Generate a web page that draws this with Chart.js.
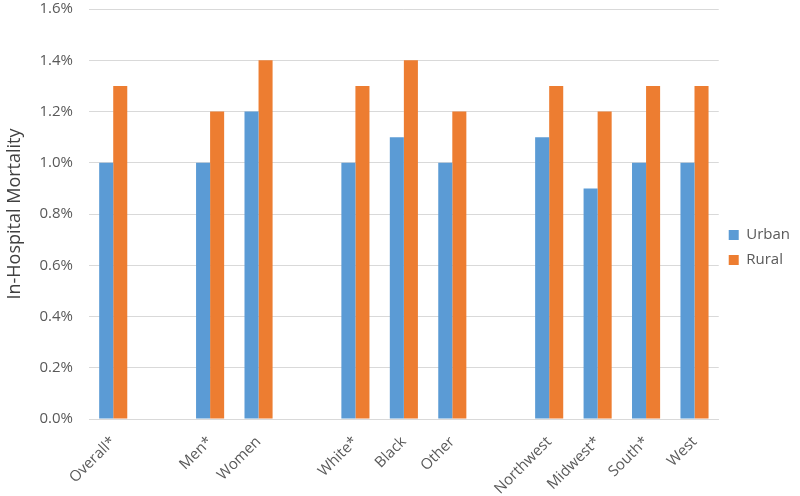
<!DOCTYPE html>
<html>
<head>
<meta charset="utf-8">
<script src="https://cdn.jsdelivr.net/npm/chart.js@4/dist/chart.umd.min.js"></script>
<style>
  html, body { margin: 0; padding: 0; background: #fff; }
  #wrap { width: 800px; height: 496px; }
</style>
</head>
<body>
<div id="wrap"><canvas id="myChart"></canvas></div>
<script>
// empty strings are the gaps between groups
const categories = ["Overall*", "", "Men*", "Women", "", "White*", "Black", "Other", "", "Northwest", "Midwest*", "South*", "West"];
const urban = [1.0, null, 1.0, 1.2, null, 1.0, 1.1, 1.0, null, 1.1, 0.9, 1.0, 1.0];
const rural = [1.3, null, 1.2, 1.4, null, 1.3, 1.4, 1.2, null, 1.3, 1.2, 1.3, 1.3];
const yTicks = [0, 0.2, 0.4, 0.6, 0.8, 1.0, 1.2, 1.4, 1.6];

const font = "'Open Sans', sans-serif";
const grey = "#595959";

const ctx = document.getElementById("myChart").getContext("2d");
const myChart = new Chart(ctx, {
  type: "bar",
  data: {
    labels: categories,
    datasets: [
      { label: "Urban", data: urban, backgroundColor: "#5B9BD5" },
      { label: "Rural", data: rural, backgroundColor: "#ED7D31" },
    ],
  },
  options: {
    responsive: true,
    maintainAspectRatio: false,
    animation: false,
    categoryPercentage: 0.58,
    barPercentage: 1.0,
    layout: { padding: { top: -1, right: 0, bottom: 0, left: 4 } },
    plugins: {
      tooltip: { enabled: false },
      legend: {
        position: "right",
        labels: {
          boxWidth: 10,
          boxHeight: 10,
          padding: 10,
          color: grey,
          font: { family: font, size: 15 },
        },
      },
    },
    scales: {
      x: {
        grid: { display: false },
        border: { color: "#D9D9D9" },
        afterFit: (scale) => {
          scale.height = 77;
        },
        ticks: {
          color: grey,
          font: { family: font, size: 15 },
          minRotation: 45,
          maxRotation: 45,
          autoSkip: false,
          padding: 6,
        },
      },
      y: {
        min: 0,
        max: 1.6,
        afterBuildTicks: (scale) => {
          scale.ticks = yTicks.map((v) => ({ value: v }));
        },
        afterFit: (scale) => {
          scale.width = 85;
        },
        grid: { color: "#D9D9D9", tickColor: "rgba(0,0,0,0)", tickLength: 16 },
        border: { display: false },
        ticks: {
          color: grey,
          font: { family: font, size: 15 },
          padding: 0,
          callback: (v) => v.toFixed(1) + "%",
        },
        title: {
          display: true,
          text: "In-Hospital Mortality",
          color: "#404040",
          font: { family: font, size: 18 },
          padding: { top: 0, bottom: 2 },
        },
      },
    },
  },
});
</script>
</body>
</html>
